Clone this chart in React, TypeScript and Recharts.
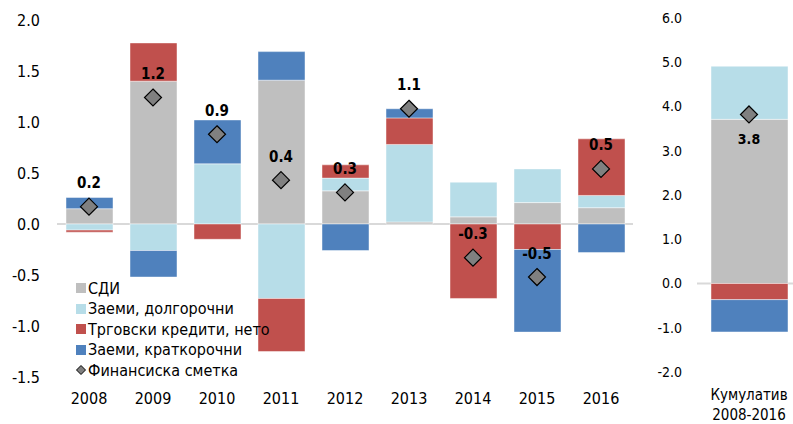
import React from 'react';
import { ComposedChart, Bar, Scatter, XAxis, YAxis, CartesianGrid, Legend } from 'recharts';

const years = ['2008', '2009', '2010', '2011', '2012', '2013', '2014', '2015', '2016'];
const fdi = [0.15, 1.4, 0, 1.41, 0.325, 0.02, 0.07, 0.21, 0.16];
const loansLong = [-0.06, -0.26, 0.59, -0.73, 0.125, 0.76, 0.34, 0.33, 0.12];
const tradeCredits = [-0.02, 0.375, -0.15, -0.52, 0.13, 0.26, -0.73, -0.25, 0.555];
const loansShort = [0.11, -0.26, 0.43, 0.28, -0.26, 0.09, 0, -0.81, -0.28];
const financialAccount = [0.17, 1.24, 0.88, 0.43, 0.31, 1.13, -0.33, -0.52, 0.54];

const cumCategory = ['Кумулатив 2008-2016'];
const cumFdi = [3.71];
const cumLoansLong = [1.2];
const cumTradeCredits = [-0.365];
const cumLoansShort = [-0.73];
const cumFinancialAccount = [3.82];

const leftTicks = [-1.5, -1, -0.5, 0, 0.5, 1, 1.5, 2];
const rightTicks = [-2, -1, 0, 1, 2, 3, 4, 5, 6];

const seriesNames = ['СДИ', 'Заеми, долгорочни', 'Трговски кредити, нето', 'Заеми, краткорочни'];
const faName = 'Финансиска сметка';
const colors = ['#bfbfbf', '#b7dde8', '#c0504d', '#4f81bd'];
const faColor = '#808080';
const barEdge = 'rgba(255,255,255,0.45)';

const FONT = '"DejaVu Sans Condensed", "DejaVu Sans", sans-serif';

const leftData = years.map((y, i) => ({
  year: y,
  fdi: fdi[i],
  lt: loansLong[i],
  tr: tradeCredits[i],
  st: loansShort[i],
  fa: financialAccount[i],
}));

const rightData = cumCategory.map((c, i) => ({
  cat: c,
  fdi: cumFdi[i],
  lt: cumLoansLong[i],
  tr: cumTradeCredits[i],
  st: cumLoansShort[i],
  fa: cumFinancialAccount[i],
}));

const fmt = (v: number) => v.toFixed(1);

const makeDiamond = (labelDy: number, fontSize: number) => (p: any) => {
  const { cx, cy, payload } = p;
  const r = 8.5;
  return (
    <g>
      <polygon
        points={`${cx},${cy - r} ${cx + r},${cy} ${cx},${cy + r} ${cx - r},${cy}`}
        fill={faColor}
        stroke="#000"
        strokeWidth={1.2}
      />
      <text
        x={cx}
        y={cy + labelDy}
        textAnchor="middle"
        fontWeight="bold"
        fontSize={fontSize}
        fill="#000"
        style={{ fontFamily: FONT }}
      >
        {fmt(payload.fa)}
      </text>
    </g>
  );
};

const LegendContent = () => (
  <div style={{ fontFamily: FONT, fontSize: 16, color: '#000' }}>
    {seriesNames.map((n, i) => (
      <div key={n} style={{ display: 'flex', alignItems: 'center', height: 20.5 }}>
        <span style={{ display: 'inline-block', width: 10, height: 10, background: colors[i], marginRight: 2 }} />
        <span style={{ whiteSpace: 'nowrap' }}>{n}</span>
      </div>
    ))}
    <div style={{ display: 'flex', alignItems: 'center', height: 20.5 }}>
      <svg width={10} height={10} style={{ marginRight: 2 }}>
        <polygon points="5,0.5 9.5,5 5,9.5 0.5,5" fill={faColor} stroke="#000" strokeWidth={1} />
      </svg>
      <span style={{ whiteSpace: 'nowrap' }}>{faName}</span>
    </div>
  </div>
);

const RightTick = (p: any) => {
  const { x, y, payload } = p;
  const parts = String(payload.value).split(' ');
  return (
    <text x={x} y={y} textAnchor="middle" fill="#000" fontSize={15} style={{ fontFamily: FONT }}>
      <tspan x={x} dy="0.71em">{parts[0]}</tspan>
      <tspan x={x} dy="20">{parts[1]}</tspan>
    </text>
  );
};

export default function App() {
  return (
    <div
      style={{
        position: 'absolute',
        left: 0,
        top: 0,
        width: 793,
        height: 424,
        overflow: 'hidden',
        background: '#fff',
        fontFamily: FONT,
      }}
    >
      <div style={{ position: 'absolute', left: 0, top: 0 }}>
        <ComposedChart
          width={650}
          height={424}
          data={leftData}
          stackOffset="sign"
          margin={{ top: 20, right: 17, bottom: 17, left: 0 }}
        >
          <CartesianGrid vertical={false} horizontalValues={[0]} stroke="#d9d9d9" strokeWidth={2} />
          <XAxis
            dataKey="year"
            axisLine={false}
            tickLine={false}
            tickSize={0}
            tickMargin={16}
            height={30}
            tick={{ fill: '#000', fontSize: 16 }}
            interval={0}
          />
          <YAxis
            domain={[-1.5, 2]}
            ticks={leftTicks}
            axisLine={false}
            tickLine={false}
            tickSize={0}
            tickMargin={17}
            width={57}
            tickFormatter={fmt}
            tick={{ fill: '#000', fontSize: 16 }}
            interval={0}
          />
          <Legend
            layout="vertical"
            align="center"
            verticalAlign="middle"
            content={<LegendContent />}
            wrapperStyle={{ left: 76, top: 278, width: 'auto', height: 'auto' }}
          />
          <Bar dataKey="fdi" name={seriesNames[0]} stackId="a" fill={colors[0]} stroke={barEdge} strokeWidth={1} barSize={47} isAnimationActive={false} />
          <Bar dataKey="lt" name={seriesNames[1]} stackId="a" fill={colors[1]} stroke={barEdge} strokeWidth={1} barSize={47} isAnimationActive={false} />
          <Bar dataKey="tr" name={seriesNames[2]} stackId="a" fill={colors[2]} stroke={barEdge} strokeWidth={1} barSize={47} isAnimationActive={false} />
          <Bar dataKey="st" name={seriesNames[3]} stackId="a" fill={colors[3]} stroke={barEdge} strokeWidth={1} barSize={47} isAnimationActive={false} />
          <Scatter dataKey="fa" name={faName} shape={makeDiamond(-18.5, 15)} isAnimationActive={false} />
        </ComposedChart>
      </div>
      <div style={{ position: 'absolute', left: 630, top: 0 }}>
        <ComposedChart
          width={171}
          height={424}
          data={rightData}
          stackOffset="sign"
          margin={{ top: 18, right: 0, bottom: 22, left: 0 }}
        >
          <CartesianGrid vertical={false} horizontalValues={[0]} stroke="#d9d9d9" strokeWidth={2} />
          <XAxis
            dataKey="cat"
            axisLine={false}
            tickLine={false}
            tickSize={0}
            tickMargin={17}
            height={30}
            tick={<RightTick />}
            interval={0}
          />
          <YAxis
            domain={[-2, 6]}
            ticks={rightTicks}
            axisLine={false}
            tickLine={false}
            tickSize={0}
            tickMargin={15}
            width={67}
            tickFormatter={fmt}
            tick={{ fill: '#000', fontSize: 14 }}
            interval={0}
          />
          <Bar dataKey="fdi" name={seriesNames[0]} stackId="a" fill={colors[0]} stroke={barEdge} strokeWidth={1} barSize={77} isAnimationActive={false} />
          <Bar dataKey="lt" name={seriesNames[1]} stackId="a" fill={colors[1]} stroke={barEdge} strokeWidth={1} barSize={77} isAnimationActive={false} />
          <Bar dataKey="tr" name={seriesNames[2]} stackId="a" fill={colors[2]} stroke={barEdge} strokeWidth={1} barSize={77} isAnimationActive={false} />
          <Bar dataKey="st" name={seriesNames[3]} stackId="a" fill={colors[3]} stroke={barEdge} strokeWidth={1} barSize={77} isAnimationActive={false} />
          <Scatter dataKey="fa" name={faName} shape={makeDiamond(30, 14)} isAnimationActive={false} />
        </ComposedChart>
      </div>
    </div>
  );
}
